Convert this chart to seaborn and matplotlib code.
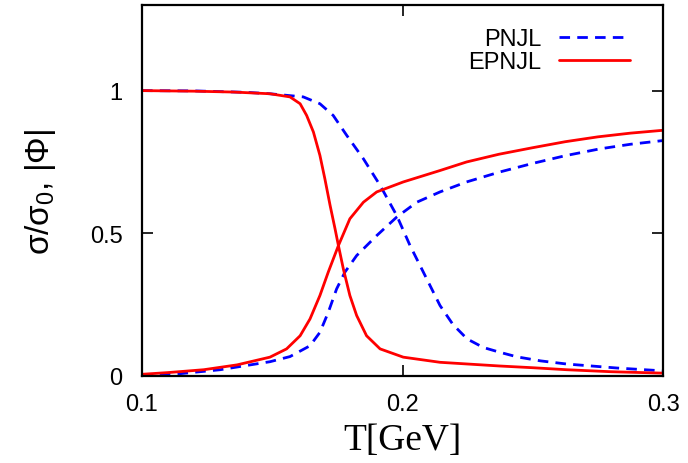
import numpy as np
import pandas as pd
import matplotlib
matplotlib.use("Agg")
import matplotlib.pyplot as plt
import seaborn as sns
from matplotlib.lines import Line2D

# ---- data ----
# EPNJL sigma/sigma0 (red, descending)
T_ep_sigma = [0.100, 0.120, 0.135, 0.1491, 0.1568, 0.1607, 0.1632, 0.1658, 0.1683, 0.1702,
              0.1722, 0.1741, 0.1754, 0.1773, 0.1798, 0.1824, 0.1862, 0.1914, 0.2003, 0.2144,
              0.2374, 0.250, 0.263, 0.280, 0.300]
v_ep_sigma = [1.000, 0.998, 0.995, 0.989, 0.978, 0.954, 0.913, 0.855, 0.773, 0.691,
              0.598, 0.516, 0.457, 0.375, 0.282, 0.212, 0.141, 0.095, 0.066, 0.048,
              0.035, 0.029, 0.022, 0.015, 0.010]
# EPNJL |Phi| (red, ascending)
T_ep_phi = [0.100, 0.110, 0.1237, 0.1365, 0.1491, 0.1555, 0.1607, 0.1645, 0.1683, 0.1715,
            0.1754, 0.1798, 0.1850, 0.1901, 0.2003, 0.2144, 0.2246, 0.237, 0.250, 0.2625,
            0.275, 0.2875, 0.300]
v_ep_phi = [0.006, 0.012, 0.022, 0.039, 0.066, 0.095, 0.141, 0.200, 0.282, 0.364,
            0.457, 0.551, 0.609, 0.645, 0.680, 0.720, 0.750, 0.777, 0.800, 0.821,
            0.838, 0.851, 0.861]
# PNJL sigma/sigma0 (blue dashed, descending)
T_p_sigma = [0.100, 0.120, 0.140, 0.1491, 0.1619, 0.1683, 0.1734, 0.1786, 0.1850, 0.1914,
             0.1978, 0.2029, 0.2080, 0.2144, 0.2194, 0.2248, 0.231, 0.2374, 0.244, 0.253,
             0.263, 0.2823, 0.300]
v_p_sigma = [1.000, 0.999, 0.994, 0.989, 0.978, 0.954, 0.913, 0.843, 0.761, 0.668,
             0.562, 0.457, 0.364, 0.247, 0.180, 0.130, 0.100, 0.083, 0.067, 0.053,
             0.042, 0.028, 0.018]
# PNJL |Phi| (blue dashed, ascending)
T_p_phi = [0.100, 0.1134, 0.130, 0.1491, 0.1568, 0.1645, 0.1683, 0.1715, 0.1747, 0.1779,
           0.1824, 0.1901, 0.1978, 0.2055, 0.2144, 0.2246, 0.2374, 0.250, 0.2625, 0.2758,
           0.2875, 0.300]
v_p_phi = [0.002, 0.007, 0.022, 0.050, 0.068, 0.106, 0.153, 0.223, 0.305, 0.364,
           0.422, 0.492, 0.557, 0.609, 0.645, 0.680, 0.715, 0.745, 0.772, 0.796,
           0.812, 0.825]

x_ticks = [0.1, 0.2, 0.3]
x_ticklabels = ["0.1", "0.2", "0.3"]
y_ticks = [0, 0.5, 1]
y_ticklabels = ["0", "0.5", "1"]
legend_labels = ["PNJL", "EPNJL"]

# ---- style ----
sns.set_theme(style="ticks")
plt.rcParams["font.family"] = ["Liberation Sans", "DejaVu Sans"]
plt.rcParams["mathtext.fontset"] = "custom"
plt.rcParams["mathtext.rm"] = "Liberation Sans"
plt.rcParams["mathtext.it"] = "Liberation Sans"
plt.rcParams["text.color"] = "black"
plt.rcParams["axes.labelcolor"] = "black"
plt.rcParams["xtick.color"] = "black"
plt.rcParams["ytick.color"] = "black"

fig = plt.figure(figsize=(6.88, 4.64), dpi=100)
ax = fig.add_axes([142 / 688, 87 / 464, 521 / 688, 371 / 464])

BLUE = "#0000ff"
RED = "#ff0000"
LW = 2.0
DASH = (0, (3.8, 2.6))

def draw(T, v, color, ls):
    df = pd.DataFrame({"T": T, "v": v})
    sns.lineplot(data=df, x="T", y="v", ax=ax, color=color, linewidth=LW,
                 estimator=None, sort=False, legend=False,
                 linestyle=ls, dashes=False)

draw(T_p_sigma, v_p_sigma, BLUE, DASH)
draw(T_p_phi, v_p_phi, BLUE, DASH)
draw(T_ep_sigma, v_ep_sigma, RED, "-")
draw(T_ep_phi, v_ep_phi, RED, "-")

ax.set_xlim(0.1, 0.3)
ax.set_ylim(0, 1.3)
ax.set_xticks(x_ticks)
ax.set_xticklabels(x_ticklabels)
ax.set_yticks(y_ticks)
ax.set_yticklabels(y_ticklabels)
ax.tick_params(direction="in", length=8, width=1.2, labelsize=17,
               top=True, right=True, colors="black")
ax.tick_params(axis="x", pad=12)
ax.tick_params(axis="y", pad=14)
for s in ax.spines.values():
    s.set_linewidth(1.6)
    s.set_color("black")
    s.set_visible(True)

ax.set_xlabel("T[GeV]", family=["Liberation Serif", "DejaVu Serif"], fontsize=27,
              labelpad=6, color="black")
ax.set_ylabel(r"σ/σ$_0$, |Φ|", fontsize=24, labelpad=23, color="black")

handles = [Line2D([], [], color=BLUE, lw=LW, linestyle=DASH),
           Line2D([], [], color=RED, lw=LW)]
leg = ax.legend(handles, legend_labels, loc="upper right", markerfirst=False,
                frameon=False, fontsize=17, handlelength=3.0, handletextpad=0.75,
                labelspacing=0.05, borderaxespad=0.3, bbox_to_anchor=(0.968, 0.982))
for t in leg.get_texts():
    t.set_ha("right")
    t.set_color("black")

fig.savefig("out.png", dpi=100)
